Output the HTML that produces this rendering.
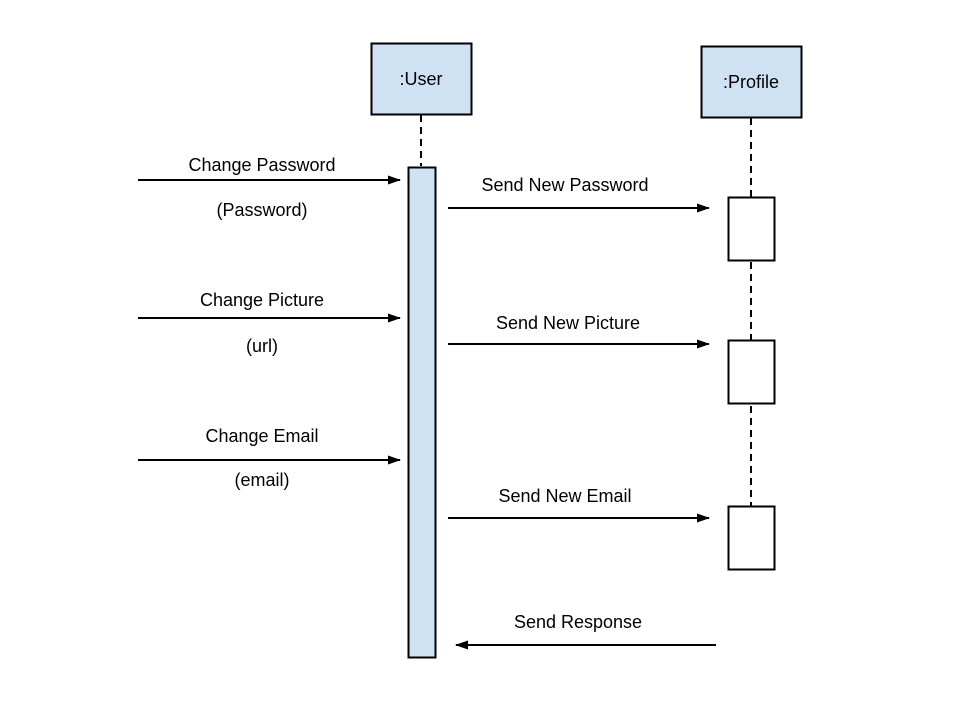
<!DOCTYPE html>
<html><head><style>body{margin:0;background:#fff}</style></head><body>
<svg width="960" height="720" xmlns="http://www.w3.org/2000/svg" font-family="Liberation Sans, sans-serif" font-size="18" fill="#000">
<defs><marker id="a" markerWidth="13" markerHeight="10" refX="12" refY="5" orient="auto" markerUnits="userSpaceOnUse"><path d="M0,0.5 L13,5 L0,9.5 z" fill="#000"/></marker></defs>
<g stroke="#000" stroke-width="2" stroke-dasharray="7,5">
<line x1="421" y1="115" x2="421" y2="166"/>
<line x1="751" y1="118" x2="751" y2="570"/>
</g>
<rect x="371.5" y="43.5" width="100" height="71" fill="#cfe2f3" stroke="#000" stroke-width="2"/>
<rect x="701.5" y="46.5" width="100" height="71" fill="#cfe2f3" stroke="#000" stroke-width="2"/>
<text x="421" y="85" text-anchor="middle">:User</text>
<text x="751" y="88" text-anchor="middle">:Profile</text>
<rect x="408.5" y="167.5" width="27" height="490" fill="#cfe2f3" stroke="#000" stroke-width="2"/>
<g fill="#fff" stroke="#000" stroke-width="2">
<rect x="728.5" y="197.5" width="46" height="63"/>
<rect x="728.5" y="340.5" width="46" height="63"/>
<rect x="728.5" y="506.5" width="46" height="63"/>
</g>
<g stroke="#000" stroke-width="2" marker-end="url(#a)">
<line x1="138" y1="180" x2="400" y2="180"/>
<line x1="138" y1="318" x2="400" y2="318"/>
<line x1="138" y1="460" x2="400" y2="460"/>
<line x1="448" y1="208" x2="709" y2="208"/>
<line x1="448" y1="344" x2="709" y2="344"/>
<line x1="448" y1="518" x2="709" y2="518"/>
<line x1="716" y1="645" x2="456" y2="645"/>
</g>
<g text-anchor="middle">
<text x="262" y="171">Change Password</text>
<text x="262" y="216">(Password)</text>
<text x="262" y="306">Change Picture</text>
<text x="262" y="352">(url)</text>
<text x="262" y="442">Change Email</text>
<text x="262" y="486">(email)</text>
<text x="565" y="191">Send New Password</text>
<text x="568" y="329">Send New Picture</text>
<text x="565" y="502">Send New Email</text>
<text x="578" y="628">Send Response</text>
</g>
</svg>
</body></html>
